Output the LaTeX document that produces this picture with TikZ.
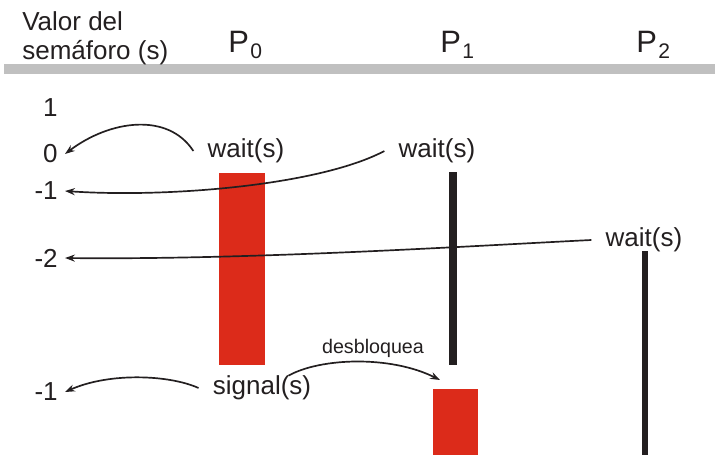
\documentclass[tikz,border=0pt]{standalone}
\usepackage{fontspec}
\setmainfont{Liberation Sans}
\usetikzlibrary{arrows.meta}
\definecolor{semred}{RGB}{220,43,26}
\definecolor{semblack}{RGB}{35,31,32}
\definecolor{semgray}{RGB}{192,192,192}
\newcommand\psub[1]{\kern1pt\raisebox{-4.7pt}{\fontsize{15}{15}\selectfont #1}}
\tikzset{%
      txt/.style = { inner sep=0pt, font=\fontsize{18.5}{20.6}\selectfont },
      act/.style = { txt, inner xsep=10pt },
      val/.style = { txt, anchor=east, inner xsep=5pt },
     proc/.style = { anchor=base west, inner sep=0pt, font=\fontsize{22}{22}\selectfont },
     note/.style = { inner sep=0pt, font=\fontsize{14}{14}\selectfont },
      arr/.style = { -{Stealth[length=7pt,width=5pt]}, line width=1.2pt }
}

\begin{document}
\begin{tikzpicture}[x=0.025cm, y=-0.025cm, color=semblack]

  \useasboundingbox (0,0) rectangle (715,455);

  % header
  \fill[semgray] (4,64) rectangle (715,74);
  \node[txt, align=left, anchor=north west] (hdr) at (22,11) {Valor del\\semáforo (s)};
  \node[proc] (pzero) at (228,52) {P\psub{0}};
  \node[proc] (pone) at (440,52) {P\psub{1}};
  \node[proc] (ptwo) at (636,52) {P\psub{2}};

  % semaphore values
  \node[val] (vone)   at (65,108) {1};
  \node[val] (vzero)  at (65,154) {0};
  \node[val] (vmone)  at (65,191) {-1};
  \node[val] (vmtwo)  at (65,258) {-2};
  \node[val] (vmoneb) at (65,392) {-1};

  % execution bars
  \fill[semred]   (219,173) rectangle (265,365);
  \fill[semblack] (449,172) rectangle (457,365);
  \fill[semred]   (433,389) rectangle (478,455);
  \fill[semblack] (642,251) rectangle (648,455);

  % operations
  \node[act] (wzero) at (246,151) {wait(s)};
  \node[act] (wone)  at (437,151) {wait(s)};
  \node[act] (wtwo)  at (644,240) {wait(s)};
  \node[act] (sig)   at (262,388) {signal(s)};
  \node[note] (desb) at (373,348) {desbloquea};
  \coordinate (wake) at (440,380);

  \draw[arr] (wzero.west) .. controls (168,112) and (110,120) .. (vzero.east);
  \draw[arr] (wone.west) .. controls (320,185) and (170,198) .. (vmone.east);
  \draw[arr] (wtwo.west) .. controls (470,246) and (250,260) .. (vmtwo.east);
  \draw[arr] (sig.west) .. controls (170,375) and (110,372) .. (vmoneb.east);
  \draw[arr] (sig.25) .. controls (320,358) and (390,355) .. (wake);

\end{tikzpicture}
\end{document}
